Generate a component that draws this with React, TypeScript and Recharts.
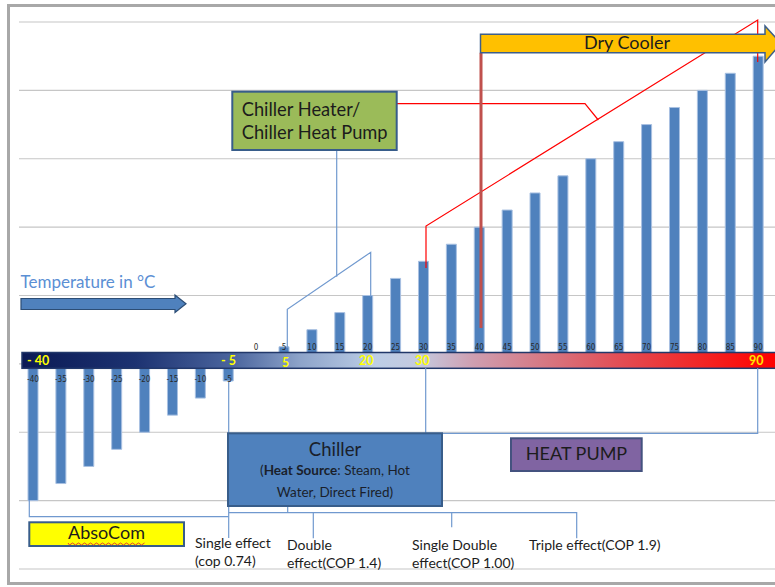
import React from 'react';
import { BarChart, Bar, XAxis, YAxis, CartesianGrid, LabelList } from 'recharts';

// temperature steps (°C) and bar heights
const temps = [-40, -35, -30, -25, -20, -15, -10, -5, 0, 5, 10, 15, 20, 25, 30, 35, 40, 45, 50, 55, 60, 65, 70, 75, 80, 85, 90];
const heights = [-40, -35, -30, -25, -20, -15, -10, -5, 0, 5, 10, 15, 20, 25, 30, 35, 40, 45, 50, 55, 60, 65, 70, 75, 80, 85, 90];
const yTicks = [-60, -40, -20, 0, 20, 40, 60, 80, 100];

// yellow labels inside the temperature band
const bandLabels = ['- 40', '- 5', '5', '20', '30', '90'];

// notes under the chiller box
const effectNotes = [
  ['Single effect', '(cop 0.74)'],
  ['Double', 'effect(COP 1.4)'],
  ['Single Double', 'effect(COP 1.00)'],
  ['Triple effect(COP 1.9)'],
];

const data = temps.map((t, i) => ({ t, v: heights[i] }));

const FONT = 'Lato, "Open Sans", sans-serif';
const INK = '#1c1c1c';
const LINK = '#7099cf';

const BarTag = (props: any) => {
  const vb = props.viewBox || {};
  const x = props.x ?? vb.x;
  const y = props.y ?? vb.y;
  const width = props.width ?? vb.width;
  const height = props.height ?? vb.height;
  const value = props.value;
  const top = Math.min(y, y + height);
  const bottom = Math.max(y, y + height);
  const zero = value >= 0 ? bottom : top;
  const cy = value >= 0 ? zero - 16 : zero + 16;
  return (
    <text
      x={x + width / 2}
      y={cy}
      textAnchor="middle"
      dominantBaseline="central"
      fontSize={8}
      fontFamily='"Liberation Sans Narrow", "DejaVu Sans Condensed", sans-serif'
      fill="#2a2a2a"
    >
      {value}
    </text>
  );
};

const Overlay = () => {
  const bandX = [27, 221, 282, 359, 415, 749];
  const bandY = [360.5, 360.5, 362, 360.5, 360.5, 360.5];
  const noteX = [195, 287, 412, 529];
  const noteY = [548, 550, 550, 550];

  // spell-check squiggle under AbsoCom
  let squiggle = 'M 68 543';
  for (let i = 0; i < 26; i++) squiggle += ` L ${69.5 + i * 3} ${i % 2 ? 543 : 545}`;

  return (
    <svg
      width={775}
      height={587}
      style={{ position: 'absolute', left: 0, top: 0, pointerEvents: 'none' }}
    >
      <defs>
        <linearGradient id="tempBand" gradientUnits="userSpaceOnUse" x1={22} y1={0} x2={775} y2={0}>
          <stop offset="0" stopColor="#0b1a55" />
          <stop offset="0.15" stopColor="#1c3271" />
          <stop offset="0.28" stopColor="#4b659e" />
          <stop offset="0.37" stopColor="#8ea4ca" />
          <stop offset="0.47" stopColor="#bccde6" />
          <stop offset="0.53" stopColor="#c5c9de" />
          <stop offset="0.6" stopColor="#cf9eb0" />
          <stop offset="0.7" stopColor="#d77580" />
          <stop offset="0.8" stopColor="#e34a52" />
          <stop offset="0.9" stopColor="#f22626" />
          <stop offset="1" stopColor="#ff0000" />
        </linearGradient>
      </defs>

      {/* frame */}
      <rect x={8.5} y={5.5} width={800} height={578} fill="none" stroke="#a8a8a8" strokeWidth={3} />

      {/* temperature band */}
      <rect x={22} y={352.5} width={780} height={15.8} fill="url(#tempBand)" stroke="#22386a" strokeWidth={1.5} />
      {bandLabels.map((s, i) => (
        <text
          key={s}
          x={bandX[i]}
          y={bandY[i]}
          dominantBaseline="central"
          fontFamily={FONT}
          fontWeight={700}
          fontSize={12.5}
          fill={i === 5 ? '#ffe600' : '#ffff00'}
        >
          {s}
        </text>
      ))}

      {/* Temperature in °C */}
      <text x={20.5} y={288.3} fontFamily={FONT} fontSize={17} fill="#5b8fd4">
        Temperature in °C
      </text>
      <polygon
        points="21,298.5 175,298.5 175,295 186,303.8 175,312.5 175,309.5 21,309.5"
        fill="#4f81bd"
        stroke="#2c4d75"
        strokeWidth={1.2}
      />

      {/* chiller heater connector */}
      <g fill="none" stroke={LINK} strokeWidth={1.2}>
        <polyline points="336.7,150 336.7,276.7" />
        <polyline points="287.3,348 287.3,309.3 370.7,252.3 370.7,296.7" />
        {/* absocom bracket */}
        <polyline points="29.3,500 29.3,516.7 228.7,516.7" />
        <polyline points="228.7,382 228.7,538" />
        {/* heat pump bracket */}
        <polyline points="425.7,368 425.7,433.3 757.7,433.3 757.7,368" />
        {/* chiller effect ticks */}
        <polyline points="287.7,506 287.7,512.7" />
        <polyline points="229,512.7 576.7,512.7 576.7,538.3" />
        <polyline points="313.3,512.7 313.3,538.3" />
        <polyline points="451.7,512.7 451.7,527.3" />
      </g>

      {/* red leader lines */}
      <g fill="none" stroke="#ff0000" strokeWidth={1.2}>
        <polyline points="426,268 426,226 757.7,20 757.7,62" />
        <polyline points="396.7,103.7 585,103.7 598.3,120" />
      </g>
      <line x1={481} y1={52.7} x2={481} y2={328} stroke="#c0504d" strokeWidth={3} />

      {/* Dry Cooler arrow */}
      <polygon
        points="480.5,34.3 765,34.3 765,26 781,43.5 765,62 765,52.7 480.5,52.7"
        fill="#ffc000"
        stroke="#3e5f8a"
        strokeWidth={1.5}
      />
      <text x={627} y={49} textAnchor="middle" fontFamily={FONT} fontSize={18} fill={INK}>
        Dry Cooler
      </text>

      {/* Chiller Heater box */}
      <rect x={232.3} y={91.7} width={164.4} height={58.3} fill="#9bbb59" stroke="#385d8a" strokeWidth={2} />
      <text x={241.7} y={116} fontFamily={FONT} fontSize={18.3} fill={INK}>
        Chiller Heater/
      </text>
      <text x={241.7} y={138.5} fontFamily={FONT} fontSize={18.3} fill={INK}>
        Chiller Heat Pump
      </text>

      {/* Chiller box */}
      <rect x={228} y={433.3} width={214} height={72.7} fill="#4f81bd" stroke="#385d8a" strokeWidth={2} />
      <text x={335} y={456} textAnchor="middle" fontFamily={FONT} fontSize={18.5} fill="#1a1f2b">
        Chiller
      </text>
      <text x={335} y={475} textAnchor="middle" fontFamily={FONT} fontSize={13.5} fill="#1a1f2b">
        (<tspan fontWeight={700}>Heat Source</tspan>: Steam, Hot
      </text>
      <text x={335} y={497} textAnchor="middle" fontFamily={FONT} fontSize={13.5} fill="#1a1f2b">
        Water, Direct Fired)
      </text>

      {/* HEAT PUMP box */}
      <rect x={511} y={438.3} width={130.7} height={32.7} fill="#8064a2" stroke="#44527f" strokeWidth={2} />
      <text x={576.5} y={460} textAnchor="middle" fontFamily={FONT} fontSize={18} fill={INK}>
        HEAT PUMP
      </text>

      {/* AbsoCom box */}
      <rect x={29.3} y={522.3} width={154.7} height={23.7} fill="#ffff00" stroke="#385d8a" strokeWidth={2} />
      <text x={106.5} y={539.3} textAnchor="middle" fontFamily={FONT} fontSize={18} fill={INK}>
        AbsoCom
      </text>
      <path d={squiggle} fill="none" stroke="#e03030" strokeWidth={0.9} />

      {/* effect notes */}
      {effectNotes.map((lines, i) =>
        lines.map((s, j) => (
          <text key={s} x={noteX[i]} y={noteY[i] + j * 18} fontFamily={FONT} fontSize={14} fill={INK}>
            {s}
          </text>
        ))
      )}
    </svg>
  );
};

export default function App() {
  return (
    <div
      style={{
        position: 'absolute',
        left: 0,
        top: 0,
        width: 775,
        height: 587,
        overflow: 'hidden',
        background: '#fff',
      }}
    >
      <BarChart width={800} height={587} data={data} margin={{ top: 22, right: 14, bottom: 18, left: 19 }}>
        <CartesianGrid vertical={false} stroke="#c6c6c6" strokeWidth={1.2} />
        <XAxis type="number" dataKey="t" domain={[-42.5, 95]} hide allowDataOverflow />
        <YAxis domain={[-60, 100]} ticks={yTicks} hide allowDataOverflow />
        <Bar
          dataKey="v"
          fill="#4f81bd"
          stroke="#a9c1e2"
          strokeWidth={1}
          barSize={10}
          minPointSize={1}
          isAnimationActive={false}
        >
          <LabelList dataKey="v" content={BarTag} />
        </Bar>
      </BarChart>
      <Overlay />
    </div>
  );
}
